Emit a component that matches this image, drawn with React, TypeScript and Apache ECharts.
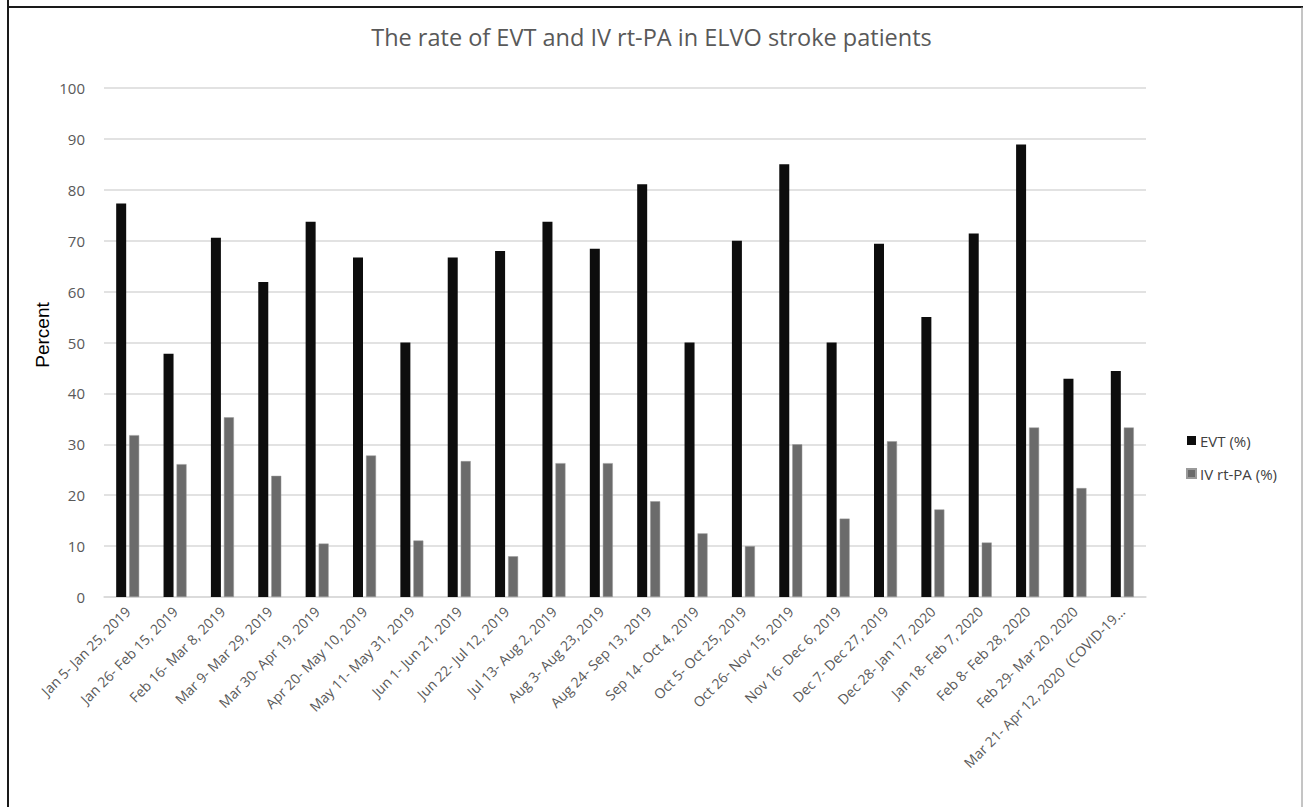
import React, { useEffect, useRef } from "react";
import * as echarts from "echarts";

const categories = [
  "Jan 5- Jan 25, 2019",
  "Jan 26- Feb 15, 2019",
  "Feb 16- Mar 8, 2019",
  "Mar 9- Mar 29, 2019",
  "Mar 30- Apr 19, 2019",
  "Apr 20- May 10, 2019",
  "May 11- May 31, 2019",
  "Jun 1- Jun 21, 2019",
  "Jun 22- Jul 12, 2019",
  "Jul 13- Aug 2, 2019",
  "Aug 3- Aug 23, 2019",
  "Aug 24- Sep 13, 2019",
  "Sep 14- Oct 4, 2019",
  "Oct 5- Oct 25, 2019",
  "Oct 26- Nov 15, 2019",
  "Nov 16- Dec 6, 2019",
  "Dec 7- Dec 27, 2019",
  "Dec 28- Jan 17, 2020",
  "Jan 18- Feb 7, 2020",
  "Feb 8- Feb 28, 2020",
  "Feb 29- Mar 20, 2020",
  "Mar 21- Apr 12, 2020  (COVID-19...",
];

const evt = [77.3, 47.8, 70.6, 61.9, 73.7, 66.7, 50, 66.7, 68, 73.7, 68.4, 81.1, 50, 70, 85, 50, 69.4, 55, 71.4, 88.9, 42.9, 44.4];
const ivRtPA = [31.8, 26.1, 35.3, 23.8, 10.5, 27.8, 11.1, 26.7, 8, 26.3, 26.3, 18.8, 12.5, 10, 30, 15.4, 30.6, 17.2, 10.7, 33.3, 21.4, 33.3];

const seriesNames = ["EVT (%)", "IV rt-PA (%)"];
const titleText = "The rate of EVT and IV rt-PA in ELVO stroke patients";
const yAxisName = "Percent";

export default function App() {
  const ref = useRef<HTMLDivElement>(null);
  useEffect(() => {
    if (!ref.current) return;
    const chart = echarts.init(ref.current, null, { renderer: "svg" });
    const font = "'Open Sans', sans-serif";
    chart.setOption({
      animation: false,
      backgroundColor: "#ffffff",
      title: {
        text: titleText,
        left: "center",
        top: 20,
        textStyle: { fontFamily: font, fontSize: 23.5, fontWeight: "normal", color: "#595959" },
      },
      legend: {
        orient: "vertical",
        left: 1181,
        top: 428,
        icon: "rect",
        itemWidth: 9,
        itemHeight: 9,
        itemGap: 18,
        textStyle: { fontFamily: font, fontSize: 15, color: "#404040", padding: [0, 0, 0, -1] },
        data: seriesNames,
      },
      grid: { left: 104, right: 157, top: 88, bottom: 210, containLabel: false },
      xAxis: {
        type: "category",
        data: categories,
        axisLine: { lineStyle: { color: "#d9d9d9", width: 1.5 } },
        axisTick: { show: false },
        axisLabel: {
          interval: 0,
          rotate: 45,
          margin: 12,
          fontFamily: font,
          fontSize: 14,
          color: "#595959",
        },
      },
      yAxis: {
        type: "value",
        min: 0,
        max: 100,
        interval: 10,
        axisLine: { show: false },
        axisTick: { show: false },
        splitLine: { lineStyle: { color: "#d9d9d9", width: 1.5 } },
        axisLabel: { fontFamily: font, fontSize: 15, color: "#595959", margin: 19 },
      },
      series: [
        {
          name: seriesNames[0],
          type: "bar",
          data: evt,
          barWidth: 10,
          barGap: "30%",
          itemStyle: { color: "#0d0d0d" },
        },
        {
          name: seriesNames[1],
          type: "bar",
          data: ivRtPA,
          barWidth: 10,
          itemStyle: { color: "#6b6b6b", borderColor: "#9a9a9a", borderWidth: 0.5 },
        },
      ],
      graphic: [
        {
          type: "text",
          x: 42,
          y: 335,
          rotation: Math.PI / 2,
          style: {
            text: yAxisName,
            fontFamily: "'Liberation Sans', Arial, sans-serif",
            fontSize: 19,
            fill: "#000000",
            align: "center",
            verticalAlign: "middle",
          },
        },
        { type: "line", shape: { x1: 8, y1: 0, x2: 8, y2: 807 }, style: { stroke: "#1a1a1a", lineWidth: 2 } },
        { type: "line", shape: { x1: 7, y1: 7, x2: 1303, y2: 7 }, style: { stroke: "#1a1a1a", lineWidth: 2 } },
        { type: "line", shape: { x1: 1302, y1: 7, x2: 1302, y2: 807 }, style: { stroke: "#8a8a8a", lineWidth: 1 } },
      ],
    });
    return () => chart.dispose();
  }, []);
  return (
    <div
      ref={ref}
      style={{ position: "absolute", left: 0, top: 0, width: 1303, height: 807 }}
    />
  );
}
